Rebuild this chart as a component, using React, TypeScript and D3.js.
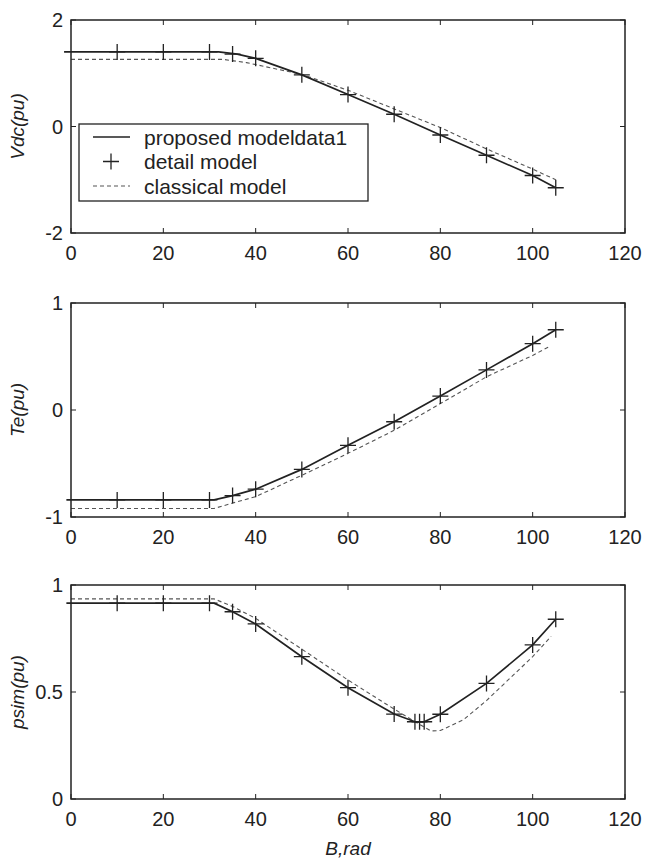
import React from "react";
import * as d3 from "d3";

// ---- data ----
const xTicks = [0, 20, 40, 60, 80, 100, 120];

const vdcTicks = [-2, 0, 2];
const vdcProposed: [number, number][] = [[-1.5, 1.4], [32, 1.4], [36, 1.36], [40, 1.28], [50, 0.97], [60, 0.6], [70, 0.23], [80, -0.16], [90, -0.54], [100, -0.92], [105, -1.15]];
const vdcDetail: [number, number][] = [[10, 1.4], [20, 1.4], [30, 1.4], [35, 1.36], [40, 1.28], [50, 0.97], [60, 0.6], [70, 0.23], [80, -0.16], [90, -0.54], [100, -0.92], [105, -1.15]];
const vdcClassical: [number, number][] = [[0, 1.26], [33, 1.26], [38, 1.2], [45, 1.07], [50, 0.98], [60, 0.68], [70, 0.33], [80, -0.02], [90, -0.42], [100, -0.8], [105, -1.0]];

const teTicks = [-1, 0, 1];
const teProposed: [number, number][] = [[-1, -0.84], [31, -0.84], [35, -0.8], [40, -0.74], [50, -0.555], [60, -0.33], [70, -0.11], [80, 0.13], [90, 0.375], [100, 0.62], [105, 0.75]];
const teDetail: [number, number][] = [[10, -0.84], [20, -0.84], [30, -0.84], [35, -0.8], [40, -0.74], [50, -0.555], [60, -0.33], [70, -0.11], [80, 0.13], [90, 0.375], [100, 0.62], [105, 0.75]];
const teClassical: [number, number][] = [[0, -0.92], [31, -0.92], [35, -0.87], [40, -0.81], [50, -0.61], [60, -0.405], [70, -0.19], [80, 0.06], [90, 0.31], [100, 0.51], [103.5, 0.59]];

const psimTicks = [0, 0.5, 1];
const psimProposed: [number, number][] = [[-1, 0.915], [31, 0.915], [35, 0.875], [40, 0.818], [50, 0.665], [60, 0.52], [70, 0.397], [74.5, 0.361], [76.5, 0.361], [80, 0.396], [90, 0.54], [100, 0.72], [105, 0.84]];
const psimDetail: [number, number][] = [[10, 0.915], [20, 0.915], [30, 0.915], [35, 0.875], [40, 0.818], [50, 0.665], [60, 0.52], [70, 0.397], [74.5, 0.361], [75.5, 0.361], [76.5, 0.361], [80, 0.396], [90, 0.54], [100, 0.72], [105, 0.84]];
const psimClassical: [number, number][] = [[0, 0.935], [31, 0.935], [35, 0.9], [40, 0.844], [50, 0.7], [60, 0.556], [70, 0.42], [75, 0.355], [78, 0.318], [80, 0.32], [85, 0.37], [90, 0.46], [100, 0.665], [104, 0.76]];

const legendLabels = ["proposed modeldata1", "detail model", "classical model"];

// ---- layout ----
const W = 654;
const H = 860;
const LEFT = 71;
const RIGHT = 625;
const FONT = "'Liberation Sans', Arial, sans-serif";
const INK = "#222";

type PanelDef = {
  top: number;
  bottom: number;
  domain: [number, number];
  ticks: number[];
  label: string;
  proposed: [number, number][];
  detail: [number, number][];
  classical: [number, number][];
  legend?: boolean;
  xlabel?: string;
};

const panels: PanelDef[] = [
  { top: 20, bottom: 233, domain: [-2, 2], ticks: vdcTicks, label: "Vdc(pu)", proposed: vdcProposed, detail: vdcDetail, classical: vdcClassical, legend: true },
  { top: 303, bottom: 517, domain: [-1, 1], ticks: teTicks, label: "Te(pu)", proposed: teProposed, detail: teDetail, classical: teClassical },
  { top: 585, bottom: 799, domain: [0, 1], ticks: psimTicks, label: "psim(pu)", proposed: psimProposed, detail: psimDetail, classical: psimClassical, xlabel: "B,rad" },
];

const Plus = ({ x, y, s = 8 }: { x: number; y: number; s?: number }) => (
  <path d={`M${x - s},${y}H${x + s}M${x},${y - s}V${y + s}`} stroke={INK} strokeWidth={1.3} fill="none" />
);

function Panel({ p }: { p: PanelDef }) {
  const x = d3.scaleLinear().domain([0, 120]).range([LEFT, RIGHT]);
  const y = d3.scaleLinear().domain(p.domain).range([p.bottom, p.top]);
  const line = d3.line<[number, number]>().x((d) => x(d[0])).y((d) => y(d[1]));
  const tl = 5;
  const midY = (p.top + p.bottom) / 2;
  return (
    <g>
      <path d={line(p.classical) || ""} fill="none" stroke="#555" strokeWidth={1.1} strokeDasharray="4,3" />
      <path d={line(p.proposed) || ""} fill="none" stroke={INK} strokeWidth={1.7} />
      {p.detail.map((d, i) => (
        <Plus key={i} x={x(d[0])} y={y(d[1])} />
      ))}
      <rect x={LEFT} y={p.top} width={RIGHT - LEFT} height={p.bottom - p.top} fill="none" stroke={INK} strokeWidth={1.5} />
      {xTicks.map((t) => (
        <g key={t}>
          <line x1={x(t)} x2={x(t)} y1={p.bottom} y2={p.bottom - tl} stroke={INK} strokeWidth={1} />
          <line x1={x(t)} x2={x(t)} y1={p.top} y2={p.top + tl} stroke={INK} strokeWidth={1} />
          <text x={x(t)} y={p.bottom + 27} textAnchor="middle" fontSize={20} fontFamily={FONT} fill={INK}>
            {t}
          </text>
        </g>
      ))}
      {p.ticks.map((t) => (
        <g key={t}>
          <line x1={LEFT} x2={LEFT + tl} y1={y(t)} y2={y(t)} stroke={INK} strokeWidth={1} />
          <line x1={RIGHT} x2={RIGHT - tl} y1={y(t)} y2={y(t)} stroke={INK} strokeWidth={1} />
          <text x={63} y={y(t) + 7} textAnchor="end" fontSize={20} fontFamily={FONT} fill={INK}>
            {t}
          </text>
        </g>
      ))}
      <text transform={`translate(24,${midY}) rotate(-90)`} textAnchor="middle" fontSize={19} fontStyle="italic" fontFamily={FONT} fill={INK}>
        {p.label}
      </text>
      {p.xlabel && (
        <text x={(LEFT + RIGHT) / 2} y={855} textAnchor="middle" fontSize={19} fontStyle="italic" fontFamily={FONT} fill={INK}>
          {p.xlabel}
        </text>
      )}
      {p.legend && (
        <g>
          <rect x={79} y={124} width={289} height={77} fill="#fff" stroke={INK} strokeWidth={1.3} />
          {legendLabels.map((lab, i) => {
            const ly = 137 + i * 24.5;
            return (
              <g key={lab}>
                {i === 0 && <line x1={93} x2={130} y1={ly} y2={ly} stroke={INK} strokeWidth={1.4} />}
                {i === 1 && <Plus x={111} y={ly} />}
                {i === 2 && <line x1={93} x2={130} y1={ly} y2={ly} stroke="#555" strokeWidth={1.1} strokeDasharray="4,3" />}
                <text x={144} y={ly + 7.5} fontSize={21} fontFamily={FONT} fill={INK}>
                  {lab}
                </text>
              </g>
            );
          })}
        </g>
      )}
    </g>
  );
}

export default function App() {
  return (
    <svg width={W} height={H} style={{ position: "absolute", left: 0, top: 0, background: "#fff" }}>
      <rect x={0} y={0} width={W} height={H} fill="#fff" />
      {panels.map((p, i) => (
        <Panel key={i} p={p} />
      ))}
    </svg>
  );
}
